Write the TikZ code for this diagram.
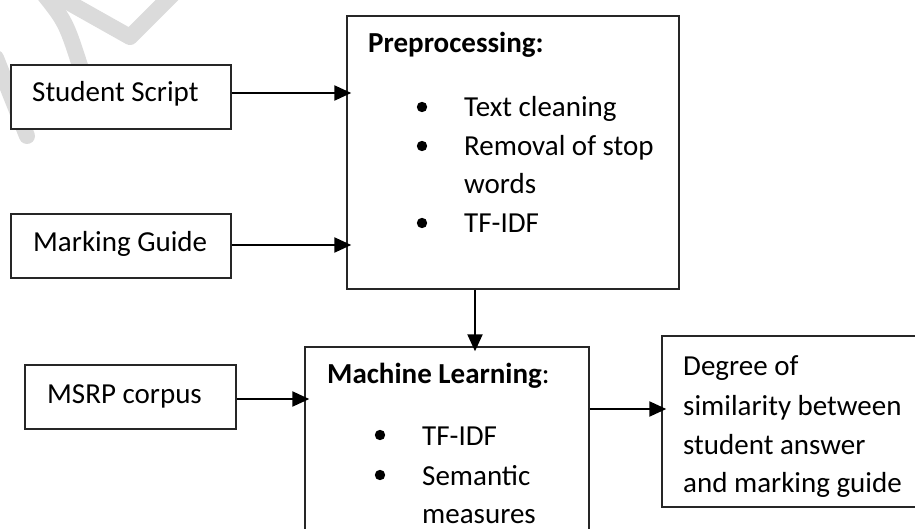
\documentclass[tikz,border=0pt]{standalone}
\usepackage{fontspec}
\setmainfont{Carlito}
\usetikzlibrary{arrows.meta}

\tikzset{
  box/.style={draw=black!85, line width=1.4pt, fill=white, inner sep=0pt},
  txt/.style={inner sep=0pt, anchor=base west},
  arr/.style={line width=2.2pt, -{Triangle[length=17pt,width=15pt]}, shorten >=-5pt},
  wmstroke/.style={line width=16pt, draw=black!14, line cap=round, line join=round},
  dot/.style={fill=black}
}

\begin{document}
\begin{tikzpicture}[x=1pt, y=-1pt, font=\fontsize{29}{39}\selectfont]
\useasboundingbox (0,0) rectangle (915,529);
\clip (0,0) rectangle (915,529);
\fill[white] (0,0) rectangle (915,529);

% faint watermark strokes in the top-left corner
\draw[wmstroke] (50,-8) -- (130,37) -- (175,-8);
\draw[wmstroke] (42,-8) .. controls (66,22) .. (82,72);
\draw[wmstroke] (-4,58) -- (27,136);

% boxes
\node[box, minimum width=220pt, minimum height=64pt] (ss)  at (121,97) {};
\node[box, minimum width=220pt, minimum height=64pt] (mg)  at (121,246) {};
\node[box, minimum width=211pt, minimum height=64pt] (ms)  at (130.5,397) {};
\node[box, minimum width=332pt, minimum height=273pt] (pre) at (513,152.5) {};
\node[box, minimum width=284pt, minimum height=253pt] (ml)  at (447,473.5) {};
\node[box, minimum width=298pt, minimum height=171pt] (out) at (811,421.5) {};

% input labels
\node[txt] (ssT) at (32,102) {Student Script};
\node[txt] (mgT) at (33,252) {Marking Guide};
\node[txt] (msT) at (47,403) {MSRP corpus};

% preprocessing block
\node[txt] (preH) at (368,53) {\bfseries Preprocessing:};
\fill[dot] (422,107) circle (5.2);
\fill[dot] (422,146) circle (5.2);
\fill[dot] (422,223) circle (5.2);
\node[txt] (p1) at (464,117) {Text cleaning};
\node[txt] (p2) at (464,156) {Removal of stop};
\node[txt] (p3) at (464,194) {words};
\node[txt] (p4) at (464,233) {TF-IDF};

% machine learning block
\node[txt] (mlH) at (327,383) {\textbf{Machine Learning}:};
\fill[dot] (380,435) circle (5.2);
\fill[dot] (380,475) circle (5.2);
\node[txt] (m1) at (422,445) {TF-IDF};
\node[txt] (m2) at (422,485) {Semantic};
\node[txt] (m3) at (422,523) {measures};

% output block
\node[txt] (o1) at (683,375) {Degree of};
\node[txt] (o2) at (683,415) {similarity between};
\node[txt] (o3) at (683,454) {student answer};
\node[txt] (o4) at (683,492) {and marking guide};

% connectors
\draw[arr] ([yshift=4pt]ss.east) -- ([yshift=4pt]ss.east -| pre.west);
\draw[arr] ([yshift=1pt]mg.east) -- ([yshift=1pt]mg.east -| pre.west);
\draw[arr] ([yshift=-2pt]ms.east) -- ([yshift=-2pt]ms.east -| ml.west);
\draw[arr] ([xshift=-38pt]pre.south) -- ([xshift=-38pt]pre.south |- ml.north);
\draw[arr] ([yshift=12.5pt]out.west -| ml.east) -- ([yshift=12.5pt]out.west);
\end{tikzpicture}
\end{document}
